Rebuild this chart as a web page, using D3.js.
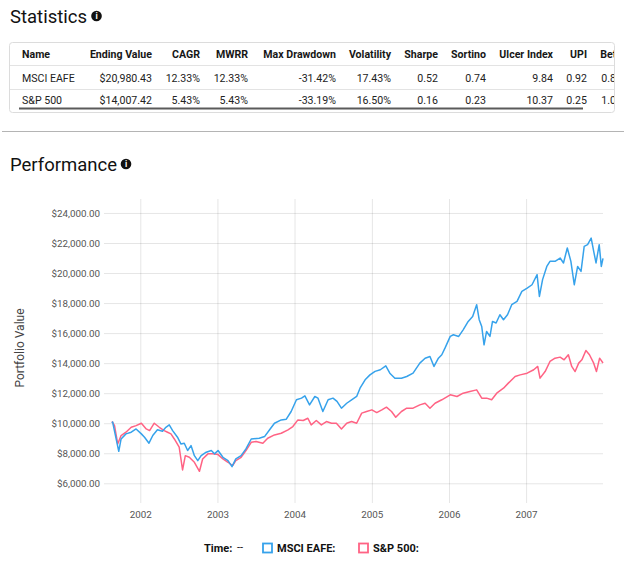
<!DOCTYPE html>
<html>
<head>
<meta charset="utf-8">
<script src="https://cdn.jsdelivr.net/npm/d3@7"></script>
<style>
  body { margin: 0; background: #fff; font-family: Roboto, "Open Sans", sans-serif; }
</style>
</head>
<body>
<div id="page"></div>
<script>
// ---- data ----
var statColumns = ["Name", "Ending Value", "CAGR", "MWRR", "Max Drawdown", "Volatility",
                   "Sharpe", "Sortino", "Ulcer Index", "UPI", "Beta"];
var statMsci = ["MSCI EAFE", "$20,980.43", "12.33%", "12.33%", "-31.42%", "17.43%",
                "0.52", "0.74", "9.84", "0.92", "0.87"];
var statSp = ["S&P 500", "$14,007.42", "5.43%", "5.43%", "-33.19%", "16.50%",
              "0.16", "0.23", "10.37", "0.25", "1.00"];

var seriesNames = ["MSCI EAFE", "S&P 500"];
var valueTicks = [6000, 8000, 10000, 12000, 14000, 16000, 18000, 20000, 22000, 24000];
var yearTicks = ["2002-01-01", "2003-01-01", "2004-01-01", "2005-01-01", "2006-01-01", "2007-01-01"];

var msciEafe = [
  ["2001-08-20", 10000], ["2001-08-23", 10080], ["2001-09-21", 8130], ["2001-10-02", 8950],
  ["2001-10-25", 9290], ["2001-11-19", 9400], ["2001-12-12", 9620], ["2002-01-06", 9290],
  ["2002-01-21", 9070], ["2002-02-11", 8670], ["2002-03-01", 9180], ["2002-03-23", 9560],
  ["2002-04-16", 9470], ["2002-05-02", 9730], ["2002-05-18", 9890], ["2002-06-03", 9510],
  ["2002-06-26", 9070], ["2002-07-12", 8620], ["2002-07-28", 8670], ["2002-08-13", 8180],
  ["2002-08-29", 8510], ["2002-09-14", 7840], ["2002-09-30", 7510], ["2002-10-16", 7840],
  ["2002-11-09", 8070], ["2002-12-03", 8180], ["2002-12-18", 7960], ["2003-01-04", 8180],
  ["2003-01-27", 7730], ["2003-02-20", 7510], ["2003-03-11", 7110], ["2003-03-29", 7620],
  ["2003-04-23", 7840], ["2003-05-16", 8290], ["2003-06-10", 8950], ["2003-07-18", 9000],
  ["2003-08-12", 9110], ["2003-09-05", 9560], ["2003-09-28", 10000], ["2003-10-30", 10220],
  ["2003-11-23", 10270], ["2003-12-16", 10780], ["2004-01-10", 11560], ["2004-02-03", 11670],
  ["2004-02-19", 11820], ["2004-03-12", 11220], ["2004-04-06", 11780], ["2004-04-21", 11670],
  ["2004-05-14", 10780], ["2004-06-08", 11560], ["2004-07-01", 11670], ["2004-07-20", 11450],
  ["2004-08-10", 11000], ["2004-09-04", 11330], ["2004-09-27", 11560], ["2004-10-21", 11780],
  ["2004-11-06", 12330], ["2004-11-30", 12890], ["2004-12-23", 13220], ["2005-01-16", 13450],
  ["2005-02-10", 13560], ["2005-03-08", 13820], ["2005-03-27", 13330], ["2005-04-20", 13000],
  ["2005-05-21", 13000], ["2005-06-15", 13110], ["2005-07-15", 13330], ["2005-08-16", 14000],
  ["2005-09-10", 14330], ["2005-10-03", 14440], ["2005-10-22", 13780], ["2005-11-12", 14330],
  ["2005-11-28", 14560], ["2005-12-13", 15000], ["2006-01-07", 15780], ["2006-01-22", 15890],
  ["2006-02-16", 15780], ["2006-03-09", 16220], ["2006-04-02", 16780], ["2006-04-23", 17110],
  ["2006-05-12", 17890], ["2006-05-24", 16890], ["2006-06-05", 16440], ["2006-06-16", 15220],
  ["2006-06-28", 16110], ["2006-07-14", 15780], ["2006-07-26", 16780], ["2006-08-12", 16670],
  ["2006-08-30", 17220], ["2006-09-16", 16890], ["2006-10-05", 17220], ["2006-10-25", 17890],
  ["2006-11-19", 18110], ["2006-12-12", 18780], ["2007-01-06", 19000], ["2007-01-29", 19220],
  ["2007-02-22", 19890], ["2007-03-05", 18440], ["2007-03-20", 19560], ["2007-04-09", 20440],
  ["2007-04-24", 20780], ["2007-05-18", 20780], ["2007-06-11", 21000], ["2007-06-27", 20670],
  ["2007-07-15", 21670], ["2007-08-01", 20780], ["2007-08-17", 19220], ["2007-09-02", 20440],
  ["2007-09-18", 20110], ["2007-10-03", 21780], ["2007-10-19", 21890], ["2007-11-05", 22330],
  ["2007-11-17", 21440], ["2007-11-28", 20670], ["2007-12-13", 21890], ["2007-12-23", 20440],
  ["2007-12-31", 20980]
];

var sp500 = [
  ["2001-08-20", 10130], ["2001-09-01", 9840], ["2001-09-16", 8620], ["2001-10-02", 9180],
  ["2001-10-25", 9400], ["2001-11-19", 9730], ["2001-12-12", 9840], ["2002-01-06", 10000],
  ["2002-01-29", 9620], ["2002-02-14", 9510], ["2002-03-08", 10000], ["2002-04-01", 9730],
  ["2002-04-24", 9510], ["2002-05-10", 9400], ["2002-05-26", 9290], ["2002-06-11", 8950],
  ["2002-07-04", 8400], ["2002-07-20", 6890], ["2002-08-02", 7840], ["2002-08-21", 7730],
  ["2002-09-14", 7400], ["2002-10-08", 6800], ["2002-10-23", 7620], ["2002-11-17", 7960],
  ["2002-12-10", 7960], ["2003-01-04", 7910], ["2003-01-27", 7620], ["2003-02-20", 7400],
  ["2003-03-14", 7180], ["2003-03-29", 7510], ["2003-04-23", 7730], ["2003-05-16", 8180],
  ["2003-06-10", 8730], ["2003-07-03", 8780], ["2003-08-04", 8670], ["2003-08-27", 9000],
  ["2003-09-28", 9220], ["2003-10-30", 9330], ["2003-12-01", 9560], ["2003-12-24", 9780],
  ["2004-01-17", 10220], ["2004-02-11", 10180], ["2004-03-04", 10330], ["2004-03-20", 9890],
  ["2004-04-13", 10180], ["2004-05-07", 9890], ["2004-05-31", 10110], ["2004-06-24", 10000],
  ["2004-07-17", 10000], ["2004-08-10", 9620], ["2004-09-04", 10000], ["2004-09-27", 10110],
  ["2004-10-21", 10000], ["2004-11-14", 10670], ["2004-12-07", 10780], ["2005-01-01", 10890],
  ["2005-01-24", 10710], ["2005-02-17", 10890], ["2005-03-11", 11070], ["2005-04-04", 10780],
  ["2005-04-24", 10400], ["2005-05-21", 10780], ["2005-06-15", 11000], ["2005-07-15", 11000],
  ["2005-08-16", 11220], ["2005-09-10", 11330], ["2005-10-03", 11000], ["2005-10-27", 11330],
  ["2005-11-28", 11560], ["2006-01-07", 11890], ["2006-02-08", 11780], ["2006-03-09", 12000],
  ["2006-04-10", 12110], ["2006-05-12", 12220], ["2006-06-05", 11670], ["2006-06-28", 11670],
  ["2006-07-22", 11560], ["2006-08-15", 12000], ["2006-09-16", 12330], ["2006-10-09", 12670],
  ["2006-11-10", 13110], ["2006-12-04", 13220], ["2007-01-06", 13330], ["2007-02-06", 13560],
  ["2007-02-25", 13780], ["2007-03-08", 13000], ["2007-04-01", 13440], ["2007-04-24", 14110],
  ["2007-05-18", 14330], ["2007-06-11", 14400], ["2007-06-30", 14220], ["2007-07-20", 14560],
  ["2007-08-05", 13780], ["2007-08-21", 13440], ["2007-09-07", 14000], ["2007-09-22", 14220],
  ["2007-10-11", 14840], ["2007-10-28", 14560], ["2007-11-17", 14000], ["2007-11-30", 13440],
  ["2007-12-15", 14330], ["2007-12-31", 14007]
];

var seriesColors = ["#36a2eb", "#ff6384"];

// ---- page ----
var W = 624, H = 562;
var svg = d3.select("#page").append("svg")
    .attr("width", W).attr("height", H)
    .style("font-family", "Roboto, sans-serif");

function heading(label, x, y, iconX) {
    svg.append("text").attr("x", x).attr("y", y)
        .attr("font-size", 18.5).attr("fill", "#111").text(label);
    svg.append("circle").attr("cx", iconX).attr("cy", y - 7).attr("r", 5.3).attr("fill", "#111");
    svg.append("text").attr("x", iconX).attr("y", y - 3.8)
        .attr("text-anchor", "middle").attr("font-size", 8.5).attr("font-weight", "bold")
        .attr("fill", "#fff").text("i");
}

heading("Statistics", 10, 23, 96.5);

// statistics table
var table = svg.append("g");
svg.append("clipPath").attr("id", "tclip")
    .append("rect").attr("x", 9).attr("y", 42).attr("width", 605).attr("height", 71);

table.append("rect")
    .attr("x", 9.5).attr("y", 42.5).attr("width", 605).attr("height", 70)
    .attr("rx", 3).attr("fill", "#fff").attr("stroke", "#dcdcdc");

var body = table.append("g").attr("clip-path", "url(#tclip)");
// column anchors (right edges, except the name column)
var colX = [22, 152, 200, 248, 336, 391, 438, 486, 553, 587, 622];
var rowY = [58, 81.5, 104];

[65.5, 89.5].forEach(function (ly) {
    body.append("line").attr("x1", 10).attr("x2", 614)
        .attr("y1", ly).attr("y2", ly).attr("stroke", "#e3e3e3");
});
body.append("rect").attr("x", 19).attr("y", 107.5).attr("width", 564).attr("height", 2)
    .attr("fill", "#5a5a5a");

[statColumns, statMsci, statSp].forEach(function (row, r) {
    body.selectAll(null).data(row).enter().append("text")
        .attr("x", function (d, i) { return colX[i]; })
        .attr("y", rowY[r])
        .attr("text-anchor", function (d, i) { return i === 0 ? "start" : "end"; })
        .attr("font-size", 10.6)
        .attr("font-weight", r === 0 ? "bold" : "normal")
        .attr("fill", r === 0 ? "#161616" : "#222")
        .text(function (d) { return d; });
});

svg.append("line").attr("x1", 2).attr("x2", 624).attr("y1", 131.5).attr("y2", 131.5)
    .attr("stroke", "#b4b4b4");

heading("Performance", 10, 171, 126);

// ---- chart ----
var parse = d3.timeParse("%Y-%m-%d");
var series = [msciEafe, sp500].map(function (s, i) {
    return { name: seriesNames[i], color: seriesColors[i],
             values: s.map(function (p) { return { date: parse(p[0]), value: p[1] }; }) };
});

var plot = { left: 112, right: 603, top: 199, bottom: 495 };

var x = d3.scaleTime()
    .domain(d3.extent(series[0].values, function (d) { return d.date; }))
    .range([plot.left, plot.right]);
var y = d3.scaleLinear()
    .domain([5220, 24930])
    .range([plot.bottom, plot.top]);

var yAxis = svg.append("g")
    .attr("transform", "translate(104,0)")
    .call(d3.axisLeft(y).tickValues(valueTicks)
        .tickSize(-(plot.right - 104)).tickPadding(4)
        .tickFormat(d3.format("$,.2f")));
yAxis.select(".domain").remove();
yAxis.selectAll("line").attr("stroke", "#000").attr("stroke-opacity", 0.1);
yAxis.selectAll("text").attr("font-size", 9.8).attr("fill", "#555")
    .attr("font-family", "Roboto, sans-serif");

var xAxis = svg.append("g")
    .attr("transform", "translate(0,503)")
    .call(d3.axisBottom(x).tickValues(yearTicks.map(parse))
        .tickSize(-(503 - plot.top)).tickPadding(8)
        .tickFormat(d3.timeFormat("%Y")));
xAxis.select(".domain").remove();
xAxis.selectAll("line").attr("stroke", "#000").attr("stroke-opacity", 0.1);
xAxis.selectAll("text").attr("font-size", 9.8).attr("fill", "#555")
    .attr("font-family", "Roboto, sans-serif");

svg.append("text")
    .attr("transform", "translate(24,348) rotate(-90)")
    .attr("text-anchor", "middle").attr("font-size", 12).attr("fill", "#444")
    .text("Portfolio Value");

var line = d3.line()
    .x(function (d) { return x(d.date); })
    .y(function (d) { return y(d.value); });

svg.selectAll(".series")
    .data(series.slice().reverse())
    .enter().append("path")
    .attr("class", "series")
    .attr("d", function (d) { return line(d.values); })
    .attr("fill", "none")
    .attr("stroke", function (d) { return d.color; })
    .attr("stroke-width", 1.5)
    .attr("stroke-linejoin", "round");

// ---- legend ----
var legend = svg.append("g").attr("font-size", 11).attr("font-weight", "bold").attr("fill", "#111");
legend.append("text").attr("x", 204).attr("y", 552).text("Time:");
legend.append("text").attr("x", 237).attr("y", 551).attr("font-weight", "normal").text("--");
var legendX = [263, 359];
series.forEach(function (s, i) {
    legend.append("rect").attr("x", legendX[i]).attr("y", 543.5).attr("width", 9).attr("height", 9)
        .attr("fill", "#fff").attr("stroke", s.color).attr("stroke-width", 1.8);
    legend.append("text").attr("x", legendX[i] + 14).attr("y", 552).text(s.name + ":");
});
</script>
</body>
</html>
